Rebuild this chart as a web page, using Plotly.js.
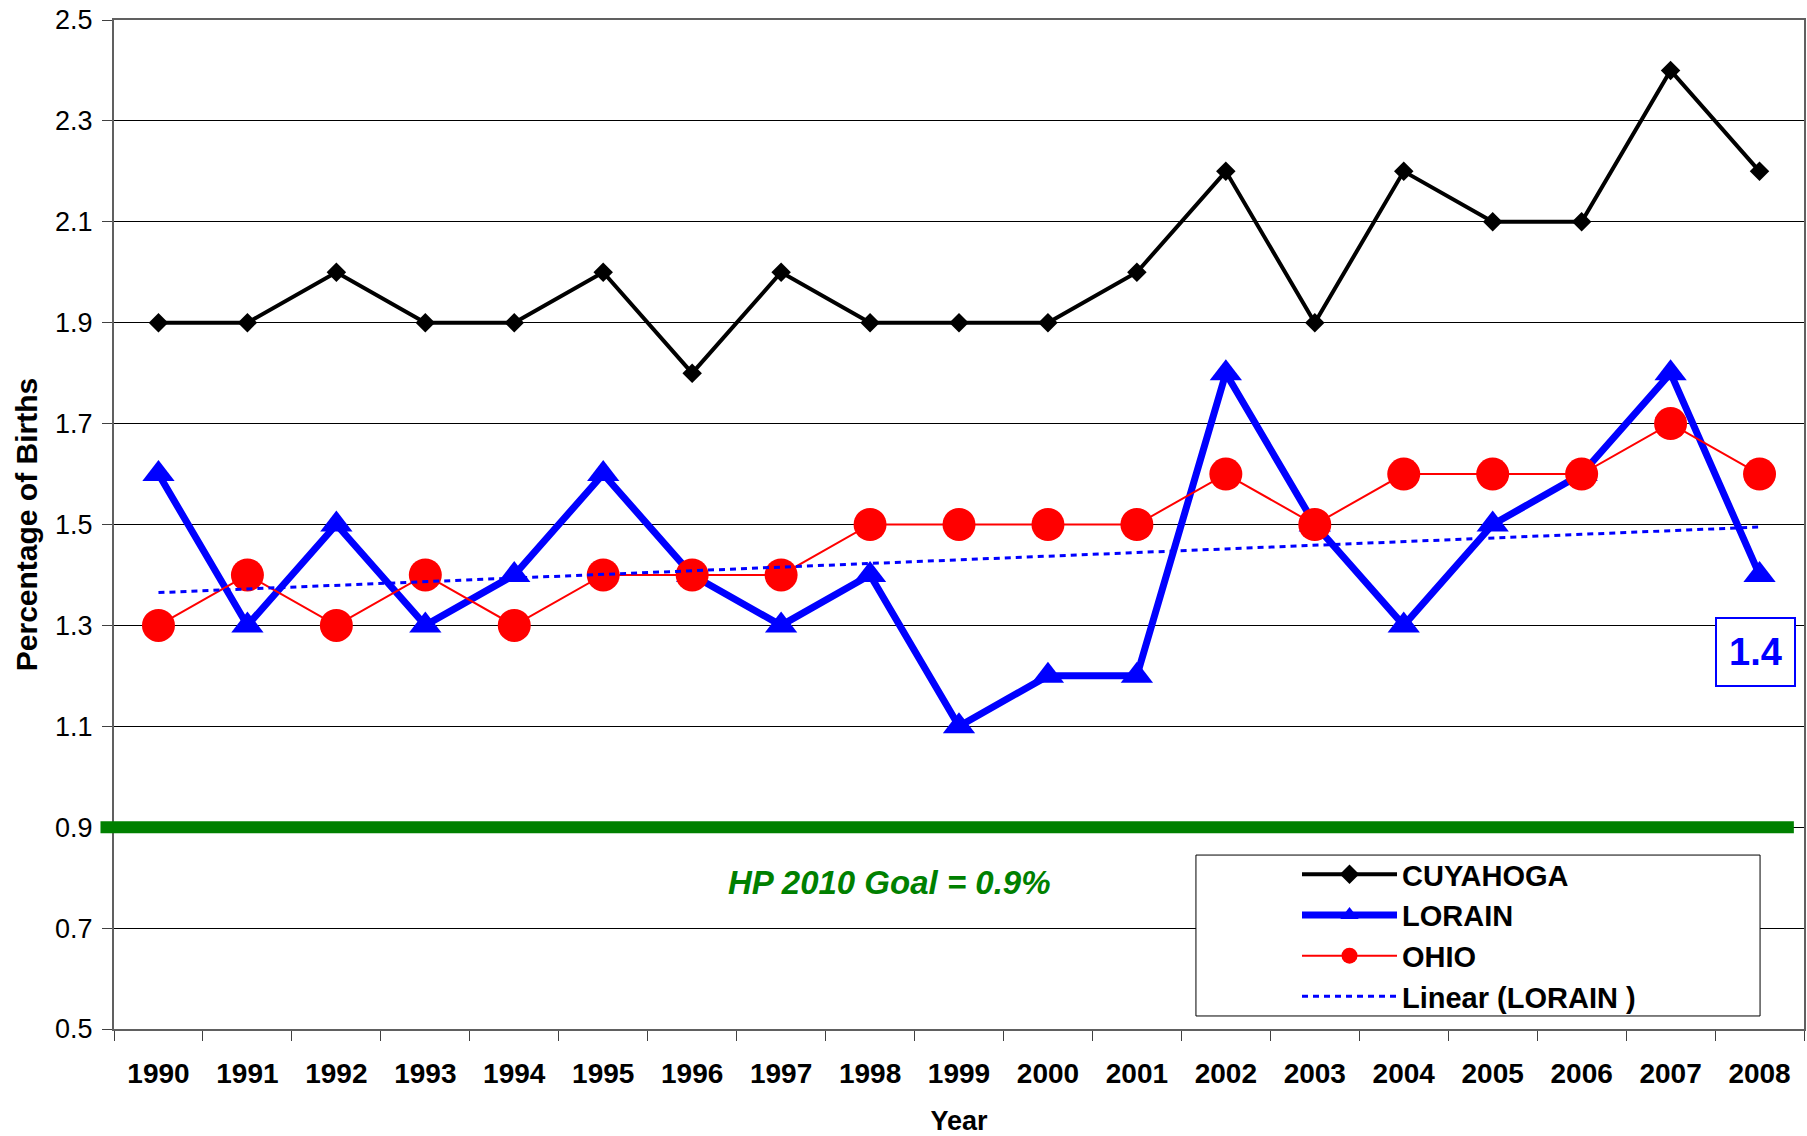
<!DOCTYPE html>
<html>
<head>
<meta charset="utf-8">
<script src="https://cdn.plot.ly/plotly-3.0.1.min.js"></script>
<style>html,body{margin:0;padding:0;background:#fff;}#chart{width:1807px;height:1136px;}</style>
</head>
<body>
<div id="chart"></div>
<script>
const years = ["1990","1991","1992","1993","1994","1995","1996","1997","1998","1999","2000","2001","2002","2003","2004","2005","2006","2007","2008"];
const cuyahoga = [1.9,1.9,2.0,1.9,1.9,2.0,1.8,2.0,1.9,1.9,1.9,2.0,2.2,1.9,2.2,2.1,2.1,2.4,2.2];
const lorain = [1.6,1.3,1.5,1.3,1.4,1.6,1.4,1.3,1.4,1.1,1.2,1.2,1.8,1.5,1.3,1.5,1.6,1.8,1.4];
const ohio = [1.3,1.4,1.3,1.4,1.3,1.4,1.4,1.4,1.5,1.5,1.5,1.5,1.6,1.5,1.6,1.6,1.6,1.7,1.6];
const trendYears = ["1990","2008"];
const trendValues = [1.365,1.495];
const goalValue = 0.9;
const goalLabel = "HP 2010 Goal = 0.9%";
const lastLorainLabel = "1.4";
const yTicks = [0.5,0.7,0.9,1.1,1.3,1.5,1.7,1.9,2.1,2.3,2.5];

const font = "Liberation Sans, Arial, sans-serif";

const traces = [
  {x: years, y: cuyahoga, name: "CUYAHOGA", mode: "lines+markers", type: "scatter",
   line: {color: "#000000", width: 4}, marker: {symbol: "diamond", size: 15, color: "#000000"}},
  {x: years, y: lorain, name: "LORAIN", mode: "lines+markers", type: "scatter",
   line: {color: "#0000FF", width: 7}, marker: {symbol: "triangle-up", size: 28, color: "#0000FF"}},
  {x: years, y: ohio, name: "OHIO", mode: "lines+markers", type: "scatter",
   line: {color: "#FF0000", width: 2}, marker: {symbol: "circle", size: 33, color: "#FF0000"}},
  {x: trendYears, y: trendValues, name: "Linear (LORAIN )", mode: "lines", type: "scatter",
   line: {color: "#0000FF", width: 3, dash: "6px,5px"}}
];

const lastIdx = years.length - 1;

const layout = {
  width: 1807, height: 1136,
  margin: {l: 114, r: 3, t: 20, b: 107},
  paper_bgcolor: "#ffffff", plot_bgcolor: "#ffffff",
  font: {family: font, color: "#000000", size: 27},
  showlegend: true,
  legend: {x: 0.700, y: 0.1785, xanchor: "left", yanchor: "top",
    bgcolor: "rgba(0,0,0,0)", borderwidth: 0,
    font: {family: font, size: 29, color: "#000000", weight: "bold"},
    itemwidth: 95, traceorder: "normal"},
  xaxis: {type: "category", range: [-0.5, 18.5], tickson: "boundaries",
    ticks: "outside", ticklen: 10, tickcolor: "#404040", tickwidth: 1,
    ticklabelstandoff: 18,
    showline: true, linecolor: "#606060", linewidth: 2, mirror: true,
    showgrid: false, zeroline: false,
    tickfont: {family: font, size: 28, weight: "bold"},
    title: {text: "Year", font: {family: font, size: 27, weight: "bold"}, standoff: 26}},
  yaxis: {range: [0.5, 2.5], tickvals: yTicks, ticktext: yTicks.map(v => v.toFixed(1)),
    ticks: "outside", ticklen: 10, tickcolor: "#404040",
    ticklabelstandoff: 4,
    showline: true, linecolor: "#606060", linewidth: 2, mirror: true,
    showgrid: true, gridcolor: "#000000", gridwidth: 1, zeroline: false,
    tickfont: {family: font, size: 27},
    title: {text: "Percentage of Births", font: {family: font, size: 30, weight: "bold"}, standoff: 9}},
  shapes: [
    {type: "line", xref: "paper", yref: "y", x0: -0.008, x1: 0.994, y0: goalValue, y1: goalValue,
     line: {color: "#008000", width: 12}, layer: "above"},
    {type: "rect", xref: "paper", yref: "paper", x0: 0.6402, x1: 0.974, y0: 0.0129, y1: 0.1724,
     line: {color: "#000000", width: 1}, fillcolor: "#ffffff", layer: "above"}
  ],
  annotations: [
    {xref: "x", yref: "y", x: years.indexOf("1998") + 0.22, y: 0.791, text: goalLabel, showarrow: false,
     font: {family: font, size: 33, color: "#008000", weight: "bold", style: "italic"}},
    {xref: "x", yref: "y", x: lastIdx, y: 1.247, text: lastLorainLabel, showarrow: false,
     font: {family: font, size: 38, color: "#0000FF", weight: "bold"},
     bordercolor: "#0000FF", borderwidth: 2, bgcolor: "#ffffff", borderpad: 12, xshift: -4}
  ]
};

Plotly.newPlot("chart", traces, layout, {displayModeBar: false, staticPlot: true});
</script>
</body>
</html>
